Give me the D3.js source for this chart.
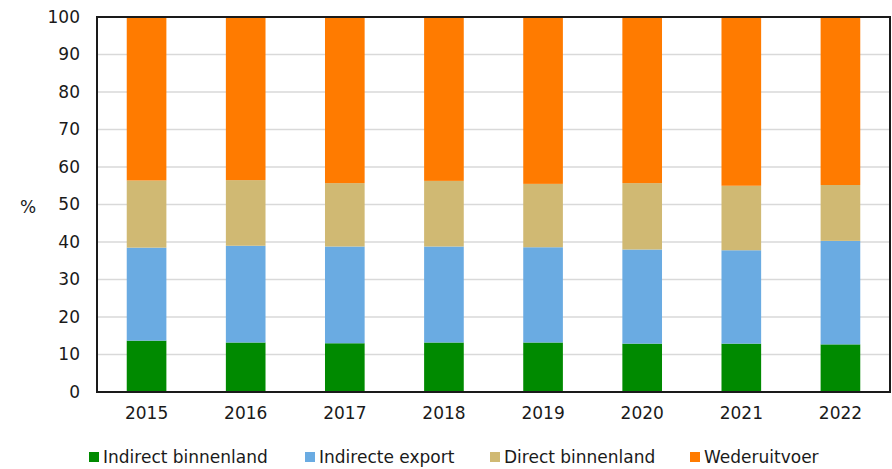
<!DOCTYPE html>
<html lang="nl">
<head>
<meta charset="utf-8">
<title>Wederuitvoer en binnenlands gebruik</title>
<script src="https://cdn.jsdelivr.net/npm/d3@7"></script>
<style>
  body { margin: 0; background: #fff; }
  text { font-family: "DejaVu Sans", Verdana, sans-serif; fill: #1a1a1a; }
</style>
</head>
<body>
<script>
// data
var years = ["2015", "2016", "2017", "2018", "2019", "2020", "2021", "2022"];
var indirectBinnenland = [13.7, 13.2, 13.0, 13.2, 13.2, 12.9, 12.9, 12.7];
var indirecteExport    = [24.8, 25.8, 25.8, 25.6, 25.4, 25.1, 24.9, 27.6];
var directBinnenland   = [17.9, 17.5, 16.9, 17.5, 16.9, 17.7, 17.2, 14.9];
var wederuitvoer       = [43.6, 43.5, 44.3, 43.7, 44.5, 44.3, 45.0, 44.8];
var seriesNames = ["Indirect binnenland", "Indirecte export", "Direct binnenland", "Wederuitvoer"];
var yTicks = [0, 10, 20, 30, 40, 50, 60, 70, 80, 90, 100];

var colors = ["#008a00", "#6aabe2", "#d0b973", "#ff7b00"];
var allSeries = [indirectBinnenland, indirecteExport, directBinnenland, wederuitvoer];

var w = 892, h = 469;
var plotLeft = 97, plotRight = 890, plotTop = 17, plotBottom = 392;
var fontSize = "17px";

var svg = d3.select("body").append("svg")
  .attr("width", w)
  .attr("height", h);

var x = d3.scaleBand()
  .domain(years)
  .range([plotLeft, plotRight])
  .paddingInner(0.6)
  .paddingOuter(0.3);

var y = d3.scaleLinear()
  .domain([0, 100])
  .range([plotBottom, plotTop]);

// gridlines
svg.append("g")
  .selectAll("line")
  .data(yTicks.slice(1, -1))
  .enter()
  .append("line")
  .attr("x1", plotLeft)
  .attr("x2", plotRight)
  .attr("y1", function(d){ return y(d); })
  .attr("y2", function(d){ return y(d); })
  .attr("stroke", "#d9d9d9")
  .attr("stroke-width", 1.5);

// stacked bars
var rows = years.map(function(yr, i){
  var r = { year: yr };
  seriesNames.forEach(function(s, k){ r[s] = allSeries[k][i]; });
  return r;
});
var stack = d3.stack().keys(seriesNames)(rows);

svg.append("g")
  .selectAll("g")
  .data(stack)
  .enter()
  .append("g")
  .attr("fill", function(d, k){ return colors[k]; })
  .selectAll("rect")
  .data(function(d){ return d; })
  .enter()
  .append("rect")
  .attr("x", function(d){ return x(d.data.year); })
  .attr("width", x.bandwidth())
  .attr("y", function(d){ return y(d[1]); })
  .attr("height", function(d){ return y(d[0]) - y(d[1]); });

// frame
svg.append("rect")
  .attr("x", plotLeft)
  .attr("y", plotTop)
  .attr("width", plotRight - plotLeft)
  .attr("height", plotBottom - plotTop)
  .attr("fill", "none")
  .attr("stroke", "#1a1a1a")
  .attr("stroke-width", 2);

// axes
var yAxis = svg.append("g")
  .attr("transform", "translate(" + plotLeft + ",0)")
  .call(d3.axisLeft(y).tickValues(yTicks).tickSize(0).tickPadding(17));
yAxis.select(".domain").remove();
yAxis.selectAll("text").attr("font-size", fontSize).style("font-family", "'DejaVu Sans', Verdana, sans-serif");

var xAxis = svg.append("g")
  .attr("transform", "translate(0," + plotBottom + ")")
  .call(d3.axisBottom(x).tickSize(0).tickPadding(15));
xAxis.select(".domain").remove();
xAxis.selectAll("text").attr("font-size", fontSize).style("font-family", "'DejaVu Sans', Verdana, sans-serif");

svg.append("text")
  .attr("x", 28)
  .attr("y", 213)
  .attr("text-anchor", "middle")
  .attr("font-size", fontSize)
  .text("%");

// legend
var legendX = [89, 305, 490, 690];
var legend = svg.append("g")
  .selectAll("g")
  .data(seriesNames)
  .enter()
  .append("g")
  .attr("transform", function(d, i){ return "translate(" + legendX[i] + ",452)"; });

legend.append("rect")
  .attr("width", 10)
  .attr("height", 10)
  .attr("fill", function(d, i){ return colors[i]; });

legend.append("text")
  .attr("x", 14)
  .attr("y", 11)
  .attr("font-size", fontSize)
  .text(function(d){ return d; });
</script>
</body>
</html>
